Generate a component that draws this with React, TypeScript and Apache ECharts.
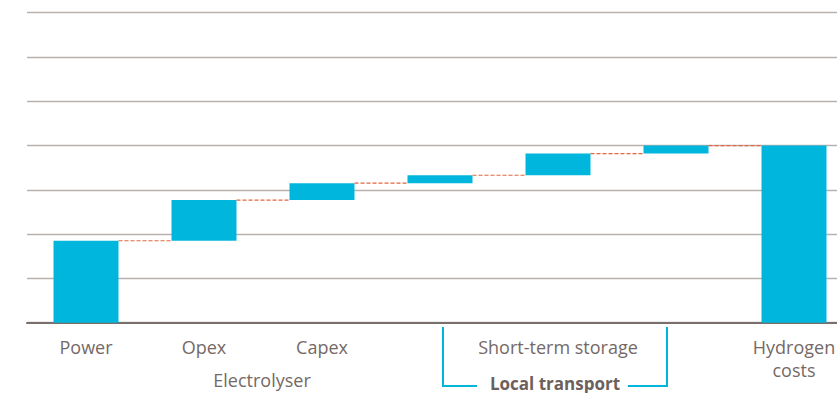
import React, { useEffect, useRef } from "react";
import * as echarts from "echarts";

const categories = ["Power", "Opex", "Capex", "", "Short-term storage", "", "Hydrogen\ncosts"];
const increments = [1.85, 0.92, 0.38, 0.18, 0.49, 0.18];
const total = 4.0;
const groupLabels = ["Electrolyser", "Local transport"];

const BAR = "#00b6dc";
const TEXT = "#756966";
const FONT = "'Open Sans', Arial, sans-serif";

export default function App() {
  const ref = useRef<HTMLDivElement>(null);
  useEffect(() => {
    if (!ref.current) return;
    const chart = echarts.init(ref.current, null, { renderer: "svg" });
    const bases: number[] = [];
    const values: number[] = [];
    const tops: number[] = [];
    let cum = 0;
    increments.forEach((v) => {
      bases.push(cum);
      values.push(v);
      cum += v;
      tops.push(cum);
    });
    bases.push(0);
    values.push(total);
    const connectors = tops.map((t, i) => [i, t]);

    chart.setOption({
      animation: false,
      grid: { left: 27, right: 17, top: 12.7, bottom: 393 - 322.7, containLabel: false },
      xAxis: {
        type: "category",
        data: categories,
        axisLine: { show: true, lineStyle: { color: "#7a6e6a", width: 2 } },
        axisTick: { show: false },
        axisLabel: {
          color: TEXT,
          fontSize: 18,
          fontFamily: FONT,
          margin: 13,
          lineHeight: 23,
          interval: 0,
        },
      },
      yAxis: {
        type: "value",
        min: 0,
        max: 7,
        interval: 1,
        axisLabel: { show: false },
        axisLine: { show: false },
        axisTick: { show: false },
        splitLine: { lineStyle: { color: "#bab1ae", width: 1.3 } },
      },
      series: [
        {
          type: "bar",
          stack: "w",
          data: bases,
          barWidth: 65,
          itemStyle: { color: "transparent" },
          silent: true,
        },
        {
          type: "bar",
          stack: "w",
          data: values,
          barWidth: 65,
          itemStyle: { color: BAR },
        },
        {
          type: "custom",
          data: connectors,
          z: 5,
          renderItem: (params: any, api: any) => {
            const i = api.value(0);
            const y = api.value(1);
            const p1 = api.coord([i, y]);
            const p2 = api.coord([i + 1, y]);
            const half = 65 / 2;
            return {
              type: "line",
              shape: { x1: p1[0] + half, y1: p1[1], x2: p2[0] - half, y2: p2[1] },
              style: { stroke: "#e8643c", lineWidth: 1.2, lineDash: [4, 2] },
            };
          },
        },
      ],
      graphic: [
        {
          type: "text",
          x: 262,
          y: 380,
          style: {
            text: groupLabels[0],
            fill: TEXT,
            font: `18px ${FONT}`,
            align: "center",
            verticalAlign: "middle",
          },
        },
        {
          type: "text",
          x: 555,
          y: 383,
          style: {
            text: groupLabels[1],
            fill: "#6b605c",
            font: `bold 17px ${FONT}`,
            align: "center",
            verticalAlign: "middle",
          },
        },
        {
          type: "polyline",
          shape: { points: [[443, 327], [443, 386], [477, 386]] },
          style: { stroke: BAR, lineWidth: 2, fill: null },
        },
        {
          type: "polyline",
          shape: { points: [[628, 386], [667, 386], [667, 327]] },
          style: { stroke: BAR, lineWidth: 2, fill: null },
        },
      ],
    });
    return () => chart.dispose();
  }, []);
  return (
    <div style={{ position: "fixed", left: 0, top: 0, width: 837, height: 393, overflow: "hidden", background: "#fff" }}>
      <div ref={ref} style={{ width: 870, height: 393 }} />
    </div>
  );
}
